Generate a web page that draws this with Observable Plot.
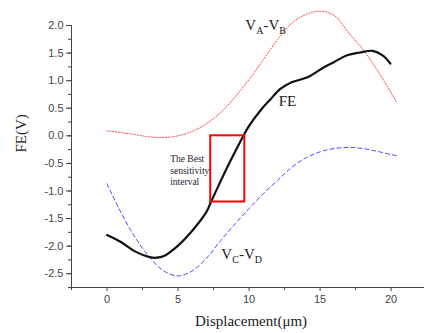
<!DOCTYPE html>
<html><head><meta charset="utf-8">
<script src="https://cdn.jsdelivr.net/npm/d3@7"></script>
<script src="https://cdn.jsdelivr.net/npm/@observablehq/plot@0.6"></script>
<style>body{margin:0;background:#fff}</style>
</head><body><div id="chart"></div>
<script>
const feX = [0, 1, 2, 3, 3.5, 4, 5, 6, 7, 7.3, 8, 8.5, 9, 9.6, 10, 10.8, 11.5, 12.2, 13, 14.1, 15.25, 16, 16.9, 17.8, 18.7, 19.4, 19.95];
const feY = [-1.8, -1.93, -2.1, -2.2, -2.21, -2.18, -1.99, -1.72, -1.38, -1.21, -0.82, -0.55, -0.3, 0.0, 0.18, 0.46, 0.66, 0.85, 0.97, 1.06, 1.24, 1.34, 1.46, 1.51, 1.54, 1.46, 1.31];
const abX = [0, 1, 2, 3, 4, 5, 6, 7, 8, 9, 10, 11, 12, 13, 14, 15, 16, 17, 18, 19, 20, 20.4];
const abY = [0.09, 0.06, 0.02, -0.02, -0.03, 0.0, 0.08, 0.22, 0.42, 0.7, 1.02, 1.38, 1.74, 2.04, 2.2, 2.26, 2.18, 1.87, 1.57, 1.2, 0.78, 0.6];
const cdX = [0, 1, 2, 3, 4, 5, 6, 7, 8, 9, 10, 11, 12, 13, 14, 15, 16, 17, 18, 19, 20, 20.4];
const cdY = [-0.87, -1.4, -1.85, -2.2, -2.45, -2.54, -2.45, -2.22, -1.9, -1.6, -1.32, -1.05, -0.81, -0.57, -0.4, -0.29, -0.23, -0.21, -0.23, -0.28, -0.34, -0.36];
const boxX = [7.3, 9.7];
const boxY = [-1.2, 0.0];
const xMajor = [0, 5, 10, 15, 20];
const xMinor = [-2.5, 2.5, 7.5, 12.5, 17.5, 22.5];
const yMajor = [-2.5, -2.0, -1.5, -1.0, -0.5, 0.0, 0.5, 1.0, 1.5, 2.0];
const yMinor = d3.range(-2.75, 2.01, 0.25);
const xTitle = "Displacement(\u03bcm)";
const yTitle = "FE(V)";
const noteLines = ["The Best", "sensitivity", "interval"];
const subLabels = [
  {x: 9.74, y: 2.0, parts: ["V", "A", "-V", "B"]},
  {x: 8.05, y: -2.14, parts: ["V", "C", "-V", "D"]}
];
const feLabel = {x: 12.7, y: 0.62, text: "FE"};

const fe = feX.map((x, i) => ({x, y: feY[i]}));
const ab = abX.map((x, i) => ({x, y: abY[i]}));
const cd = cdX.map((x, i) => ({x, y: cdY[i]}));
const box = [{x1: boxX[0], x2: boxX[1], y1: boxY[0], y2: boxY[1]}];
const serif = "Liberation Serif";
const fmt = d => d.toFixed(1);

const chart = Plot.plot({
  width: 424, height: 333,
  marginLeft: 71, marginRight: 0, marginTop: 25, marginBottom: 46,
  style: {fontFamily: "Liberation Sans", fontSize: "11px", color: "#444", background: "#fff"},
  x: {domain: [-2.5, 22.35]},
  y: {domain: [-2.75, 2.0]},
  marks: [
    Plot.axisY({ticks: yMajor, tickSize: 5, tickPadding: 3, tickFormat: fmt, label: null, stroke: "#444"}),
    Plot.axisY({ticks: yMinor, tickSize: 3, tickFormat: () => "", label: null, stroke: "#444"}),
    Plot.axisX({ticks: xMajor, tickSize: 4, tickPadding: 4, tickFormat: d => String(d), label: null, stroke: "#444"}),
    Plot.axisX({ticks: xMinor, tickSize: 3, tickFormat: () => "", label: null, stroke: "#444"}),
    Plot.ruleX([-2.5], {stroke: "#444"}),
    Plot.ruleY([-2.75], {stroke: "#444"}),
    Plot.line(ab, {x: "x", y: "y", stroke: "#ff4848", strokeWidth: 1, strokeDasharray: "1.2,1.6", curve: "catmull-rom"}),
    Plot.line(cd, {x: "x", y: "y", stroke: "#4848ff", strokeWidth: 1, strokeDasharray: "4,3", curve: "catmull-rom"}),
    Plot.line(fe, {x: "x", y: "y", stroke: "#111", strokeWidth: 2.2, curve: "catmull-rom"}),
    Plot.rect(box, {x1: "x1", x2: "x2", y1: "y1", y2: "y2", fill: "none", stroke: "#f00", strokeWidth: 2}),
    Plot.text([noteLines.join("\n")], {x: 4.45, y: -0.33, textAnchor: "start", lineAnchor: "top", lineHeight: 1.2, fontFamily: serif, fontSize: 9.5, fill: "#2a1a2a"}),
    Plot.text([feLabel], {x: "x", y: "y", text: "text", fontFamily: serif, fontSize: 15, fill: "#222"}),
    Plot.text(subLabels, {x: "x", y: "y", text: d => d.parts.join(""), textAnchor: "start", fontFamily: serif, fontSize: 15, fill: "#222"}),
    Plot.text([yTitle], {frameAnchor: "left", dx: -50, dy: -4, rotate: -90, fontFamily: serif, fontSize: 15, fill: "#222"}),
    Plot.text([xTitle], {frameAnchor: "bottom", dx: 3, dy: 38, fontFamily: serif, fontSize: 15, fill: "#222"})
  ]
});
document.getElementById("chart").appendChild(chart);

subLabels.forEach(s => {
  const full = s.parts.join("");
  d3.select(chart).selectAll("text").filter(function() { return this.textContent === full; }).each(function() {
    const t = d3.select(this);
    t.text(null);
    t.append("tspan").text(s.parts[0]);
    t.append("tspan").attr("dy", 4).attr("font-size", 10).text(s.parts[1]);
    t.append("tspan").attr("dy", -4).text(s.parts[2]);
    t.append("tspan").attr("dy", 4).attr("font-size", 10).text(s.parts[3]);
  });
});
</script>
</body></html>
